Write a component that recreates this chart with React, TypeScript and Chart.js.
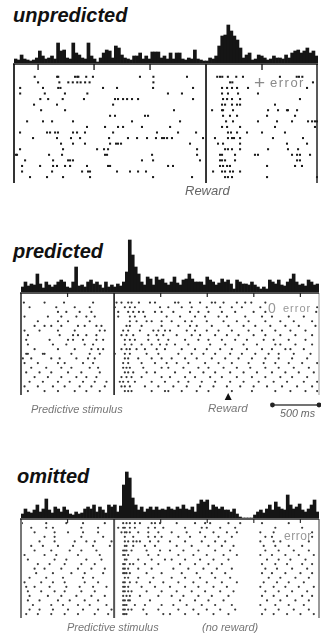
import { useEffect, useRef } from "react";
import { Chart, registerables } from "chart.js";

Chart.register(...registerables);

const FONT = '"Liberation Sans", Arial, Helvetica, sans-serif';

// ---------- time windows (ms) ----------
const UNPRED_WINDOW = [-1715, 1000]; // aligned on reward
const PRED_WINDOW = [-1000, 2200]; // aligned on predictive stimulus
const OMIT_WINDOW = [-1000, 2200];
const UNPRED_TICKS = [-1500, -1000, -500, 500];
const PRED_TICKS = [-500, 500, 1000, 1500, 2000];
const OMIT_TICKS = [-500, 500, 1000, 1500, 2000];
const UNPRED_REWARD = 0;
const PRED_STIM = 0;
const PRED_REWARD = 1225;
const OMIT_STIM = 0;
const SCALE_BAR_MS = [1700, 2200];

// ---------- peri-event histograms (100 bins each) ----------
const UNPRED_HIST = [
  4, 3, 8, 4, 3, 2, 3, 5, 12, 7, 4, 5, 7, 4, 20, 12, 13, 5, 4, 20,
  10, 8, 5, 4, 20, 7, 4, 1, 5, 10, 13, 12, 5, 17, 15, 8, 5, 4, 3, 7,
  7, 10, 4, 7, 4, 11, 11, 11, 5, 7, 4, 10, 4, 10, 10, 4, 3, 5, 4, 13,
  4, 3, 2, 2, 5, 4, 7, 17, 27, 28, 38, 32, 27, 23, 15, 5, 8, 10, 3, 4,
  8, 7, 5, 3, 4, 7, 5, 5, 4, 8, 5, 10, 12, 13, 10, 12, 15, 10, 12, 7,
];
const PRED_HIST = [
  5, 10, 6, 8, 7, 18, 8, 4, 10, 7, 5, 7, 10, 12, 10, 5, 4, 10, 25, 6,
  7, 5, 10, 12, 8, 10, 7, 4, 10, 5, 7, 5, 8, 6, 10, 20, 52, 37, 25, 18,
  10, 7, 15, 13, 7, 15, 12, 13, 9, 7, 10, 15, 9, 7, 12, 13, 18, 13, 10, 10,
  10, 7, 15, 12, 10, 7, 9, 13, 10, 12, 8, 3, 12, 10, 8, 8, 7, 10, 7, 5,
  3, 5, 3, 12, 10, 8, 12, 7, 6, 10, 13, 18, 10, 7, 8, 6, 12, 10, 7, 8,
];
const OMIT_HIST = [
  4, 9, 6, 5, 8, 13, 6, 9, 19, 8, 5, 11, 9, 6, 11, 8, 4, 3, 6, 4,
  5, 9, 11, 9, 13, 6, 11, 8, 5, 13, 11, 13, 6, 12, 33, 46, 40, 20, 13, 8,
  11, 6, 9, 11, 8, 11, 8, 9, 8, 11, 9, 8, 11, 9, 13, 9, 8, 11, 6, 14,
  18, 16, 18, 8, 13, 11, 9, 11, 8, 8, 6, 9, 4, 1, 0, 0, 0, 0, 3, 6,
  8, 5, 9, 13, 8, 16, 11, 9, 8, 23, 13, 9, 11, 14, 8, 6, 9, 13, 18, 6,
];

// ---------- rasters: spike times (ms) per trial ----------
const UNPRED_TRIALS = [
  [-1530, -1330, -1320, -1170, -1150, -1140, -1070, -1010, -590, -470, -170, 100, 125, 145, 195, 270, 330, 660, 810, 830, 860],
  [-1500, -1310, -1230, -1190, -1150, -1120, -1080, -1040, -470, 215, 235, 955],
  [-1660, -1456, -1320, -1300, -920, -795, -473, -116, 143, 188, 232, 277, 375, 902],
  [-1660, -1440, -1260, -1060, -340, -215, 143, 196, 286, 464],
  [-1480, -1410, -1280, -1090, -813, -786, -741, -705, -661, -607, -116, 152, 188, 232, 304, 839],
  [-1536, -1331, -830, 143, 170, 232, 277, 304, 616],
  [-1473, -1259, -286, 54, 143, 152, 241, 554, 643, 723, 732, 813],
  [-857, -813, -545, -518, 152, 214, 277, 545, 795],
  [-1598, -1456, -1375, -1188, -661, -232, 179, 241, 464, 634, 768, 911, 947, 973, 991],
  [-1063, -902, -786, -741, -572, -321, 143, 188, 304, 616, 973],
  [-1661, -1420, -1393, -1348, -1322, -1188, -1152, -1081, -830, -438, -250, -89, 196, 223, 277, 366, 500, 705],
  [-1545, -1331, -1206, -1125, -866, -697, -616, -527, -447, -393, -375, -348, -304, -27, 80, 196, 232, 250, 304, 598, 866],
  [-1295, -1188, -1081, -857, -804, -786, -759, -143, 107, 152, 304, 723, 902],
  [-1661, -1277, -973, -911, -875, -80, 170, 196, 232, 304, 554, 732, 822],
  [-1697, -1688, -1402, -1286, -902, -884, -482, -80, 125, 143, 259, 437, 464, 768, 813, 839, 929],
  [-1616, -1366, -1232, -1214, -1188, -572, -473, -54, 125, 143, 170, 259, 813, 839],
  [-1643, -1482, -1366, -1331, -1259, -1214, -1063, -875, -857, -339, -295, 125, 152, 188, 214, 545, 795, 857],
  [-1643, -1375, -1107, -1054, -1036, -795, -679, -607, -536, 63, 143, 170, 214, 241, 304],
  [-1572, -1420, -1277, -1036, -473, -125, 170, 196, 232, 545, 991],
];

const PRED_TRIALS = [
  [-969, -747, -538, -226, 26, 79, 151, 187, 266, 385, 439, 654, 690, 815, 923, 1049, 1085, 1175, 1318, 1408, 1473, 1624],
  [-908, -621, -423, -262, 8, 115, 169, 223, 493, 582, 726, 833, 995, 1139, 1264, 1372, 1570, 2180],
  [-603, -513, -370, -244, 44, 151, 205, 266, 313, 439, 510, 636, 815, 905, 1013, 1157, 1300, 1498, 1624, 2170],
  [-962, -711, -567, -405, -298, -208, 44, 169, 223, 331, 564, 708, 869, 977, 1121, 1211, 1408, 1588, 1695, 1875, 2037],
  [-819, -603, -495, -262, 169, 241, 349, 403, 510, 618, 762, 833, 995, 1175, 1318, 1444, 1624, 1785, 1929, 2126],
  [-854, -747, -675, -567, -388, -316, -190, -136, 133, 169, 295, 510, 690, 815, 887, 1049, 1228, 1390, 1516, 1677, 1839, 1983, 2162],
  [-962, -801, -603, -423, -154, -100, 97, 151, 277, 421, 475, 546, 600, 780, 869, 995, 1121, 1264, 1444, 1588, 1731, 1893, 2055],
  [-926, -585, -441, -388, -298, -190, 79, 133, 205, 367, 457, 528, 672, 833, 923, 1085, 1211, 1336, 1498, 1624, 1785, 1947, 2126],
  [-944, -693, -495, -441, -334, -190, -118, 115, 169, 223, 367, 475, 582, 762, 905, 1013, 1157, 1300, 1426, 1606, 1713, 1875, 2055],
  [-926, -657, -513, -316, -226, 115, 187, 295, 403, 493, 564, 654, 797, 1031, 1193, 1390, 1534, 1731, 1785, 1947, 2126],
  [-854, -603, -423, -244, -172, -118, 79, 133, 169, 241, 331, 457, 546, 726, 869, 995, 1139, 1264, 1426, 1588, 1695, 1839, 1893, 2037],
  [-944, -926, -765, -747, -459, -262, -154, 8, 115, 169, 349, 475, 690, 833, 959, 1085, 1246, 1372, 1516, 1659, 1767, 1929, 2109],
  [-980, -890, -675, -585, -405, -280, -208, 115, 151, 259, 403, 510, 618, 762, 887, 1049, 1193, 1336, 1480, 1624, 1767, 1911, 2073],
  [-962, -819, -603, -531, -334, -226, 97, 151, 295, 439, 564, 672, 797, 977, 1121, 1264, 1444, 1606, 1731, 1875, 2019, 2180],
  [-890, -729, -567, -459, -262, -172, 97, 133, 169, 313, 510, 582, 744, 905, 1013, 1175, 1318, 1462, 1624, 1767, 1929, 2091],
  [-944, -801, -675, -495, -352, -154, 115, 151, 205, 349, 439, 654, 815, 959, 1085, 1246, 1390, 1534, 1695, 1839, 1983, 2144],
  [-854, -711, -567, -405, -298, -190, 79, 133, 187, 295, 510, 600, 762, 869, 1031, 1157, 1318, 1480, 1624, 1785, 1911, 2073],
  [-908, -765, -603, -477, -334, -208, -82, 61, 97, 151, 223, 403, 546, 690, 797, 941, 1085, 1246, 1390, 1552, 1713, 1857, 2037, 2180],
  [-962, -819, -657, -531, -370, -244, -100, 79, 115, 169, 331, 475, 636, 780, 923, 1067, 1211, 1354, 1498, 1642, 1803, 1965, 2126],
  [-926, -747, -603, -423, -298, -154, 115, 151, 187, 403, 546, 582, 726, 887, 1013, 1264, 1480, 1731, 1893, 2055, 2180],
];

const OMIT_TRIALS = [
  [-990, -729, -513, -334, -100, 97, 133, 169, 223, 277, 403, 439, 493, 672, 869, 977, 1031, 1228, 1354, 1588, 1875],
  [-890, -729, -657, -352, -172, 44, 97, 115, 169, 223, 367, 439, 528, 762, 941, 995, 1139, 1300, 1731, 2019],
  [-854, -639, -495, -334, -172, 79, 115, 133, 169, 259, 367, 475, 618, 779, 923, 1067, 1211, 1318, 1570, 1713, 2126],
  [-747, -639, -352, -118, 115, 205, 367, 439, 510, 690, 815, 977, 1121, 1264, 1624, 1695, 2126],
  [-801, -639, -423, -298, -208, -28, 115, 151, 205, 241, 277, 385, 475, 600, 762, 941, 1085, 1193, 1570, 1713, 1785, 2091],
  [-890, -765, -603, -441, -226, -46, 115, 133, 205, 331, 439, 672, 833, 1013, 1157, 1282, 1606, 1731, 1875, 2019],
  [-854, -675, -477, -352, -190, 97, 115, 133, 187, 349, 493, 600, 744, 905, 1085, 1246, 1624, 1767, 1929, 2091],
  [-962, -747, -621, -388, -154, 97, 115, 151, 367, 475, 690, 851, 995, 1175, 1318, 1570, 1695, 1839, 1983, 2144],
  [-926, -639, -513, -298, -136, 115, 133, 259, 403, 546, 618, 762, 923, 1067, 1228, 1642, 1767, 1893, 2055],
  [-819, -693, -531, -352, -208, 97, 115, 169, 205, 331, 475, 708, 869, 1013, 1157, 1588, 1731, 1857, 2019, 2126],
  [-854, -747, -567, -388, -244, -100, 97, 115, 151, 259, 403, 636, 797, 959, 1103, 1264, 1624, 1749, 1911, 2073],
  [-837, -657, -459, -316, -118, 97, 115, 133, 169, 349, 510, 726, 887, 1049, 1193, 1588, 1695, 1839, 2001, 2126],
  [-908, -729, -549, -334, -226, 115, 151, 259, 421, 618, 762, 923, 1085, 1246, 1660, 1785, 1947, 2091],
  [-962, -783, -657, -531, -316, -172, 97, 115, 169, 241, 385, 528, 690, 851, 995, 1157, 1318, 1606, 1749, 1875, 2037],
  [-944, -854, -693, -513, -370, -226, -82, 97, 115, 151, 295, 439, 600, 762, 905, 1067, 1211, 1570, 1713, 1839, 1983, 2144],
  [-926, -783, -639, -531, -352, -208, 97, 115, 151, 187, 349, 510, 672, 833, 977, 1139, 1282, 1624, 1767, 1911, 2073],
  [-908, -711, -567, -405, -244, -100, 97, 133, 169, 277, 475, 618, 744, 905, 1049, 1228, 1588, 1713, 1857, 2019, 2126],
  [-926, -801, -603, -477, -316, -172, 97, 115, 151, 169, 385, 708, 869, 1013, 1175, 1642, 1785, 1947, 2091],
  [-872, -675, -549, -388, -262, -82, 97, 115, 133, 223, 331, 510, 636, 779, 941, 1085, 1264, 1570, 1731, 1875, 2037],
  [-908, -801, -657, -495, -334, -172, -28, 97, 115, 151, 187, 313, 475, 690, 851, 995, 1139, 1300, 1624, 1767, 1929, 2091],
  [-944, -819, -675, -531, -388, -208, -64, 97, 115, 133, 349, 528, 600, 762, 905, 1067, 1228, 1588, 1713, 1857, 2001, 2144],
];

// ---------- components ----------
type HistProps = { x: number; y: number; w: number; h: number; values: number[]; yMax: number };

function Histogram({ x, y, w, h, values, yMax }: HistProps) {
  const ref = useRef<HTMLCanvasElement | null>(null);
  useEffect(() => {
    const chart = new Chart(ref.current!, {
      type: "bar",
      data: {
        labels: values.map((_, i) => String(i)),
        datasets: [
          {
            data: values,
            backgroundColor: "#151515",
            borderWidth: 0,
            barPercentage: 1,
            categoryPercentage: 1,
          },
        ],
      },
      options: {
        responsive: false,
        maintainAspectRatio: false,
        animation: false,
        devicePixelRatio: 1,
        events: [],
        layout: { padding: 0 },
        plugins: { legend: { display: false }, tooltip: { enabled: false } },
        scales: {
          x: { display: false },
          y: { display: false, min: 0, max: yMax },
        },
      },
    });
    return () => chart.destroy();
  }, []);
  return (
    <canvas
      ref={ref}
      width={w}
      height={h}
      style={{ position: "absolute", left: x, top: y, width: w, height: h }}
    />
  );
}

type Line = { color: string; width: number };
type FrameSpec = {
  baseline: Line;
  left: Line;
  right?: Line & { inset: number };
  events: { t: number; color: string; width: number }[];
  ticks: number[];
  tickLen: number;
  tickLine: Line;
  marker?: number;
  scaleBar?: number[];
};

function makeFrame(spec: FrameSpec) {
  return {
    id: "rasterFrame",
    afterDatasetsDraw(chart: any) {
      const ctx = chart.ctx as CanvasRenderingContext2D;
      const { left, right, top, bottom } = chart.chartArea;
      const xs = chart.scales.x;
      const seg = (x1: number, y1: number, x2: number, y2: number, l: Line) => {
        ctx.beginPath();
        ctx.strokeStyle = l.color;
        ctx.lineWidth = l.width;
        ctx.moveTo(x1, y1);
        ctx.lineTo(x2, y2);
        ctx.stroke();
      };
      ctx.save();
      ctx.lineCap = "butt";
      seg(left, top, left, bottom, spec.left);
      if (spec.right) {
        const rx = right - spec.right.inset;
        seg(rx, top, rx, bottom, spec.right);
      }
      spec.events.forEach((e) => {
        const ex = xs.getPixelForValue(e.t);
        seg(ex, top, ex, bottom, e);
      });
      spec.ticks.forEach((t) => {
        const tx = xs.getPixelForValue(t);
        seg(tx, top, tx, top + spec.tickLen, spec.tickLine);
      });
      seg(left - spec.left.width / 2, top, right, top, spec.baseline);
      if (spec.marker !== undefined) {
        const mx = xs.getPixelForValue(spec.marker);
        ctx.beginPath();
        ctx.fillStyle = "#111";
        ctx.moveTo(mx, bottom - 2);
        ctx.lineTo(mx + 3.5, bottom + 5);
        ctx.lineTo(mx - 3.5, bottom + 5);
        ctx.closePath();
        ctx.fill();
      }
      if (spec.scaleBar) {
        const x1 = xs.getPixelForValue(spec.scaleBar[0]);
        const x2 = xs.getPixelForValue(spec.scaleBar[1]);
        const by = bottom + 10;
        seg(x1, by, x2, by, { color: "#444", width: 1.6 });
        ctx.fillStyle = "#222";
        [x1, x2].forEach((px) => {
          ctx.beginPath();
          ctx.arc(px, by, 2.4, 0, Math.PI * 2);
          ctx.fill();
        });
      }
      ctx.restore();
    },
  };
}

type RasterProps = {
  x: number;
  y: number;
  w: number;
  h: number;
  pad: { left: number; right: number; top: number; bottom: number };
  trials: number[][];
  window: number[];
  rows: number[];
  dotStyle: "rect" | "circle";
  dotRadius: number;
  dotColor: string;
  frame: FrameSpec;
};

function Raster({ x, y, w, h, pad, trials, window, rows, dotStyle, dotRadius, dotColor, frame }: RasterProps) {
  const ref = useRef<HTMLCanvasElement | null>(null);
  useEffect(() => {
    const points = trials.flatMap((ts, k) => ts.map((t) => ({ x: t, y: k + 1 })));
    const chart = new Chart(ref.current!, {
      type: "scatter",
      data: {
        datasets: [
          {
            data: points,
            pointStyle: dotStyle,
            pointRadius: dotRadius,
            pointBackgroundColor: dotColor,
            pointBorderWidth: 0,
            pointBorderColor: dotColor,
          },
        ],
      },
      options: {
        responsive: false,
        maintainAspectRatio: false,
        animation: false,
        devicePixelRatio: 1,
        events: [],
        layout: { padding: pad },
        plugins: { legend: { display: false }, tooltip: { enabled: false } },
        scales: {
          x: { type: "linear", display: false, min: window[0], max: window[1] },
          y: { type: "linear", display: false, min: rows[0], max: rows[1], reverse: true },
        },
      },
      plugins: [makeFrame(frame)],
    });
    return () => chart.destroy();
  }, []);
  return (
    <canvas
      ref={ref}
      width={w}
      height={h}
      style={{ position: "absolute", left: x, top: y, width: w, height: h }}
    />
  );
}

type LabelProps = {
  text: string;
  x: number;
  base: number;
  size: number;
  color?: string;
  bold?: boolean;
  italic?: boolean;
  spacing?: number;
};

function Label({ text, x, base, size, color = "#111", bold, italic, spacing = 0 }: LabelProps) {
  return (
    <span
      style={{
        position: "absolute",
        left: x,
        top: base - 0.8465 * size,
        fontFamily: FONT,
        fontSize: size,
        lineHeight: 1,
        fontWeight: bold ? 700 : 400,
        fontStyle: italic ? "italic" : "normal",
        letterSpacing: spacing,
        color,
        whiteSpace: "nowrap",
      }}
    >
      {text}
    </span>
  );
}

export default function App() {
  return (
    <div
      style={{
        position: "absolute",
        left: 0,
        top: 0,
        width: 321,
        height: 636,
        overflow: "hidden",
        background: "#fff",
      }}
    >
      {/* ---------- unpredicted ---------- */}
      <Label text="unpredicted" x={13} base={21.7} size={20} bold italic />
      <Histogram x={14} y={23} w={304} h={40} values={UNPRED_HIST} yMax={40} />
      <Raster
        x={10}
        y={60}
        w={312}
        h={127}
        pad={{ left: 4, right: 4, top: 3, bottom: 3 }}
        trials={UNPRED_TRIALS}
        window={UNPRED_WINDOW}
        rows={[-1.294, 20.06]}
        dotStyle="rect"
        dotRadius={1.45}
        dotColor="#1a1a1a"
        frame={{
          baseline: { color: "#111", width: 1.6 },
          left: { color: "#333", width: 2 },
          right: { color: "#222", width: 1.5, inset: 1 },
          events: [{ t: UNPRED_REWARD, color: "#333", width: 2 }],
          ticks: UNPRED_TICKS,
          tickLen: 6,
          tickLine: { color: "#222", width: 1.4 },
        }}
      />
      <Label text="+" x={254} base={89} size={19} color="#8a8a8a" />
      <Label text="error" x={270} base={87} size={13} color="#8a8a8a" spacing={1.5} />
      <Label text="Reward" x={185} base={195} size={13} color="#666" italic />

      {/* ---------- predicted ---------- */}
      <Label text="predicted" x={13} base={258.3} size={20} bold italic />
      <Histogram x={21} y={238} w={298} h={54} values={PRED_HIST} yMax={54} />
      <Raster
        x={17}
        y={289}
        w={306}
        h={120}
        pad={{ left: 4, right: 4, top: 3, bottom: 14 }}
        trials={PRED_TRIALS}
        window={PRED_WINDOW}
        rows={[-1.064, 20.85]}
        dotStyle="circle"
        dotRadius={1.1}
        dotColor="#333"
        frame={{
          baseline: { color: "#1a1a1a", width: 1.5 },
          left: { color: "#444", width: 1.8 },
          right: { color: "#bbb", width: 1.5, inset: 0 },
          events: [{ t: PRED_STIM, color: "#333", width: 1.8 }],
          ticks: PRED_TICKS,
          tickLen: 4,
          tickLine: { color: "#222", width: 1.2 },
          marker: PRED_REWARD,
          scaleBar: SCALE_BAR_MS,
        }}
      />
      <Label text="0" x={268} base={313} size={14} color="#999" />
      <Label text="error" x={283} base={312} size={11} color="#999" spacing={1} />
      <Label text="Predictive stimulus" x={31} base={413} size={11} color="#777" italic />
      <Label text="Reward" x={208} base={413} size={11.5} color="#777" italic />
      <Label text="500 ms" x={280} base={417} size={10.7} color="#666" italic />

      {/* ---------- omitted ---------- */}
      <Label text="omitted" x={17} base={483.3} size={20} bold italic />
      <Histogram x={21} y={471} w={298} h={47} values={OMIT_HIST} yMax={47} />
      <Raster
        x={17}
        y={515}
        w={306}
        h={107}
        pad={{ left: 4, right: 4, top: 3, bottom: 3 }}
        trials={OMIT_TRIALS}
        window={OMIT_WINDOW}
        rows={[0.072, 21.86]}
        dotStyle="circle"
        dotRadius={1.1}
        dotColor="#3a3a3a"
        frame={{
          baseline: { color: "#222", width: 1.5 },
          left: { color: "#777", width: 2 },
          right: { color: "#999", width: 2, inset: 0 },
          events: [{ t: OMIT_STIM, color: "#555", width: 2 }],
          ticks: OMIT_TICKS,
          tickLen: 4,
          tickLine: { color: "#333", width: 1.2 },
        }}
      />
      <Label text="error" x={284} base={540} size={12} color="#999" spacing={0.5} />
      <Label text="Predictive stimulus" x={67} base={631} size={11} color="#777" italic />
      <Label text="(no reward)" x={202} base={631} size={11} color="#777" italic />
    </div>
  );
}
